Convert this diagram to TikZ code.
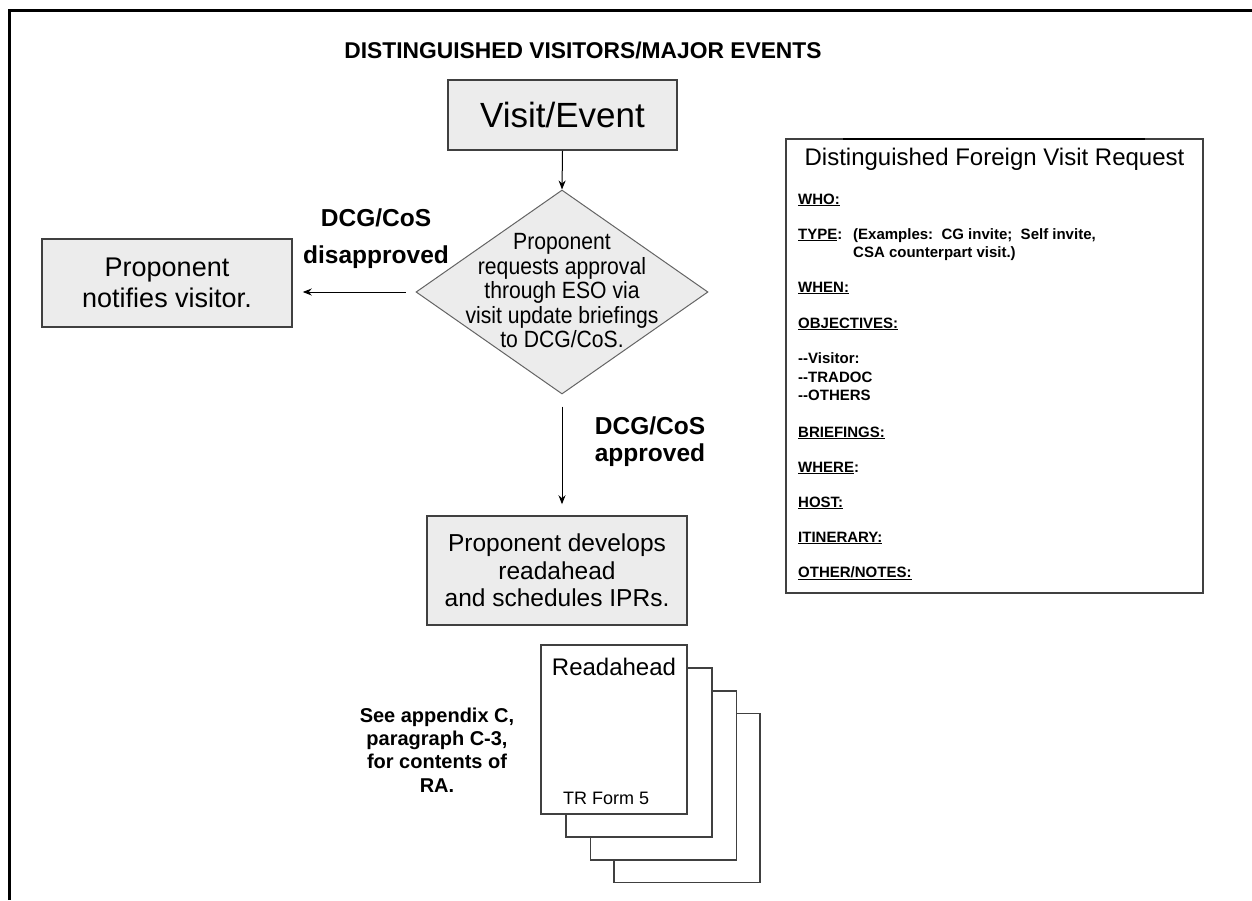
\documentclass[tikz,border=0pt]{standalone}
\usepackage{fontspec}
\setmainfont{Liberation Sans}
\newfontfamily\narrowfont[FakeStretch=0.9]{Liberation Sans}
\usetikzlibrary{shapes.geometric,arrows.meta}
\definecolor{boxfill}{RGB}{236,236,236}
\definecolor{boxline}{RGB}{64,64,64}
\definecolor{dialine}{RGB}{100,100,100}
\newcommand{\fsz}[2]{\fontsize{#1pt}{#2pt}\selectfont}
\begin{document}
\begin{tikzpicture}[x=1pt,y=-1pt,
  procbox/.style={draw=boxline, fill=boxfill, line width=1.5pt, inner sep=0pt, align=center},
  flowarrow/.style={draw=black, line width=1pt, -{Stealth[length=9pt,width=7pt]}},
  lbl/.style={inner sep=0pt, align=center},
  pagebox/.style={draw=boxline, fill=white, line width=1.3pt, minimum width=146pt, minimum height=169pt, inner sep=0pt},
  formtxt/.style={inner sep=0pt, anchor=base west, font=\bfseries\fsz{15}{18}},
]
\useasboundingbox (0,0) rectangle (1252,900);
\draw[line width=3pt] (9,900) -- (9,10) -- (1252,10);

\node[inner sep=0pt, anchor=base, font=\bfseries\fsz{22.8}{27}] (title) at (583,58) {DISTINGUISHED VISITORS/MAJOR EVENTS};

\node[procbox, minimum width=229pt, minimum height=70pt, font=\fsz{35}{40}] (visit) at (562.5,115) {Visit/Event};

\node[diamond, draw=dialine, fill=boxfill, line width=1pt, minimum width=292pt, minimum height=204pt, inner sep=0pt] (dia) at (562,292) {};
\node[lbl, font=\narrowfont\fsz{23.5}{24.5}] (diatext) at (562,291) {Proponent\\requests approval\\through ESO via\\visit update briefings\\to DCG/CoS.};

\node[procbox, minimum width=250pt, minimum height=88pt, font=\fsz{27}{31}] (notify) at (167,283) {Proponent\\notifies visitor.};

\node[lbl, font=\bfseries\fsz{24.5}{37}] (nolbl) at (376,239) {DCG/CoS\\disapproved};

\node[procbox, minimum width=260pt, minimum height=109pt, font=\fsz{24.5}{27.5}] (dev) at (557,570.5) {Proponent develops\\readahead\\and schedules IPRs.};

\node[lbl, font=\bfseries\fsz{24.5}{27}] (yeslbl) at (650,442) {DCG/CoS\\approved};

\draw[flowarrow] (visit.south) -- (dia.north);
\draw[flowarrow, shorten <=10pt, shorten >=10pt] (dia.west) -- (notify.east |- dia.west);
\draw[flowarrow, shorten <=12pt, shorten >=11pt] (dia.south) -- (dia.south |- dev.north);

\node[pagebox] (page4) at (687,798) {};
\node[pagebox] (page3) at (663.5,775.5) {};
\node[pagebox] (page2) at (639,752.5) {};
\node[pagebox] (page1) at (614,729.5) {};
\node[inner sep=0pt, anchor=base, font=\fsz{24}{28}] (ratitle) at (614,675) {Readahead};
\node[inner sep=0pt, anchor=base west, font=\fsz{18}{21}] (formno) at (563,804) {TR Form 5};

\node[lbl, font=\bfseries\fsz{20}{23.3}] (see) at (437,749.8) {See appendix C,\\paragraph C-3,\\for contents of\\RA.};

\node[draw=boxline, line width=1.2pt, minimum width=417pt, minimum height=454pt, inner sep=0pt] (fvbox) at (994.5,366) {};
\draw[line width=2.5pt] (843,139) -- (1145,139);
\node[inner sep=0pt, anchor=base, font=\fsz{24}{28}] (fvtitle) at (994.5,165) {Distinguished Foreign Visit Request};

\node[formtxt] (who) at (798,204) {\underline{WHO:}};
\node[formtxt] (type) at (798,239) {\underline{TYPE}:};
\node[formtxt] (ex1) at (853,239) {(Examples:\ \ CG invite;\ \ Self invite,};
\node[formtxt] (ex2) at (853,257) {CSA counterpart visit.)};
\node[formtxt] (when) at (798,292) {\underline{WHEN:}};
\node[formtxt] (obj) at (798,328) {\underline{OBJECTIVES:}};
\node[formtxt] (vis) at (798,363) {-{}-Visitor:};
\node[formtxt] (trad) at (798,382) {-{}-TRADOC};
\node[formtxt] (oth) at (798,400) {-{}-OTHERS};
\node[formtxt] (brief) at (798,437) {\underline{BRIEFINGS:}};
\node[formtxt] (where) at (798,472) {\underline{WHERE}:};
\node[formtxt] (host) at (798,507) {\underline{HOST:}};
\node[formtxt] (itin) at (798,542) {\underline{ITINERARY:}};
\node[formtxt] (notes) at (798,577) {\underline{OTHER/NOTES:}};
\end{tikzpicture}
\end{document}
